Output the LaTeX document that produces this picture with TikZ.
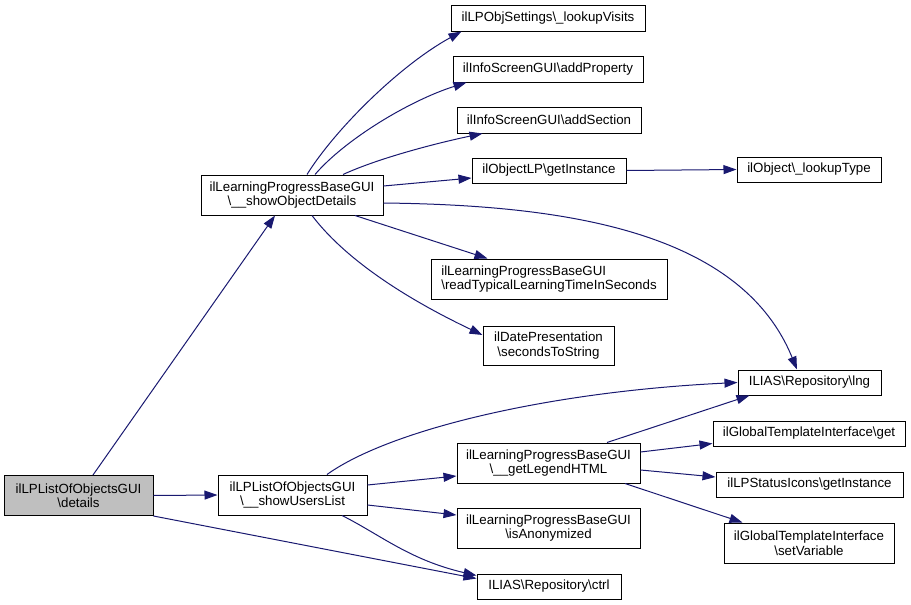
\documentclass[tikz,border=0pt]{standalone}
\usepackage{fontspec}
\setmainfont{Liberation Sans}
\usetikzlibrary{arrows.meta,calc}
\definecolor{edgeblue}{HTML}{191970}
\definecolor{hlgray}{HTML}{BFBFBF}
\begin{document}
\begin{tikzpicture}[x=1pt,y=-1pt,
  box/.style={draw=black,line width=1pt,fill=white,rectangle,inner sep=0pt,
    font=\fontsize{13.3}{14.5}\selectfont,align=center,text=black},
  hl/.style={box,fill=hlgray},
  call/.style={draw=edgeblue,line width=1pt,-{Triangle[length=13pt,width=9pt,fill=edgeblue]}}]
\useasboundingbox (0,0) rectangle (911,605);
% nodes
\node[hl,minimum width=149pt,minimum height=40pt] (details) at (78.5,495.5) {ilLPListOfObjectsGUI\\\textbackslash details};
\node[box,minimum width=182pt,minimum height=40pt] (sod) at (292,195) {ilLearningProgressBaseGUI\\\textbackslash\_\_showObjectDetails};
\node[box,minimum width=149pt,minimum height=40pt] (sul) at (292.5,495) {ilLPListOfObjectsGUI\\\textbackslash\_\_showUsersList};
\node[box,minimum width=194pt,minimum height=26pt] (lv) at (548,18) {ilLPObjSettings\textbackslash\_lookupVisits};
\node[box,minimum width=190pt,minimum height=26pt] (ap) at (548,69) {ilInfoScreenGUI\textbackslash addProperty};
\node[box,minimum width=184pt,minimum height=26pt] (as) at (549,120) {ilInfoScreenGUI\textbackslash addSection};
\node[box,minimum width=154pt,minimum height=25pt] (gi) at (549,170.5) {ilObjectLP\textbackslash getInstance};
\node[box,minimum width=144pt,minimum height=25pt] (lt) at (809,169.5) {ilObject\textbackslash\_lookupType};
\node[box,minimum width=236pt,minimum height=40pt,align=left] (rt) at (549,279) {ilLearningProgressBaseGUI\\\textbackslash readTypicalLearningTimeInSeconds};
\node[box,minimum width=131pt,minimum height=39pt] (sts) at (548.5,345.5) {ilDatePresentation\\\textbackslash secondsToString};
\node[box,minimum width=143pt,minimum height=25pt] (lng) at (809.5,382.5) {ILIAS\textbackslash Repository\textbackslash lng};
\node[box,minimum width=192pt,minimum height=25pt] (get) at (809,433.5) {ilGlobalTemplateInterface\textbackslash get};
\node[box,minimum width=183pt,minimum height=40pt] (glh) at (548.5,463) {ilLearningProgressBaseGUI\\\textbackslash\_\_getLegendHTML};
\node[box,minimum width=187pt,minimum height=25pt] (lpsi) at (809.5,484.5) {ilLPStatusIcons\textbackslash getInstance};
\node[box,minimum width=183pt,minimum height=40pt] (isa) at (548.5,528) {ilLearningProgressBaseGUI\\\textbackslash isAnonymized};
\node[box,minimum width=170pt,minimum height=40pt] (sv) at (809,543) {ilGlobalTemplateInterface\\\textbackslash setVariable};
\node[box,minimum width=144pt,minimum height=25pt] (ctrl) at (549,586.5) {ILIAS\textbackslash Repository\textbackslash ctrl};
% edges
\draw[call] ($(details.north)+(14.5,0)$) -- ($(sod.south)+(-17,0)$);
\draw[call] (details.east) -- (sul.west);
\draw[call] (details.south east) -- ($(ctrl.west)+(0,-8)$);
\draw[call] ($(sul.south)+(49.5,0)$) .. controls +(38,19) and +(-67,-15.5) .. ($(ctrl.west)+(0,-11)$);
\draw[call] ($(sod.north)+(15,0)$) .. controls +(28,-45) and +(-62,34) .. ($(lv.south west)+(11,0)$);
\draw[call] ($(sod.north)+(23,0)$) .. controls +(30,-35) and +(-57,18) .. ($(ap.south west)+(14,0)$);
\draw[call] ($(sod.north)+(51,0)$) .. controls +(37,-17) and +(-43,9) .. ($(as.south west)+(26,0)$);
\draw[call] ($(sod.east)+(0,-9)$) -- ($(gi.west)+(0,7.5)$);
\draw[call] ($(sod.east)+(0,8)$) .. controls +(177,2) and +(-57,-140) .. ($(lng.north)+(-12.5,0)$);
\draw[call] ($(sod.south)+(63,0)$) -- ($(rt.north west)+(57,0)$);
\draw[call] ($(sod.south)+(20,0)$) .. controls +(38,50) and +(-63,-30) .. ($(sts.west)+(0,-10.5)$);
\draw[call] (gi.east) -- (lt.west);
\draw[call] ($(sul.north)+(34.5,0)$) .. controls +(63,-45) and +(-188,9) .. (lng.west);
\draw[call] ($(sul.east)+(0,-10)$) -- ($(glh.west)+(0,13)$);
\draw[call] ($(sul.east)+(0,10)$) -- ($(isa.west)+(0,-13)$);
\draw[call] ($(glh.north)+(58.5,0)$) -- ($(lng.south west)+(12,0)$);
\draw[call] ($(glh.east)+(0,-11)$) -- ($(get.west)+(0,10)$);
\draw[call] ($(glh.east)+(0,7)$) -- ($(lpsi.west)+(0,-7.5)$);
\draw[call] ($(glh.south)+(76.5,0)$) -- ($(sv.north west)+(19,0)$);
\end{tikzpicture}
\end{document}
